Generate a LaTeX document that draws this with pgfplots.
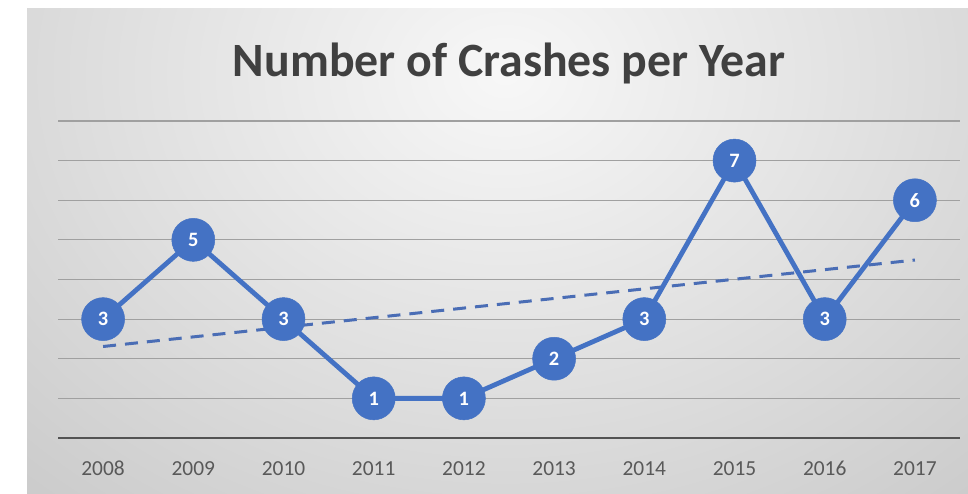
\documentclass[border=0pt]{standalone}
\usepackage{fontspec}
\setmainfont{Carlito}
\usepackage{pgfplots}
\pgfplotsset{compat=1.18}
\definecolor{cblue}{HTML}{4472C4}
\definecolor{tblue}{HTML}{4A6DB5}
\definecolor{tgray}{HTML}{404040}
\definecolor{lgray}{HTML}{595959}
\definecolor{ggray}{HTML}{A0A0A0}
\begin{document}
\begin{tikzpicture}[x=1bp,y=1bp]
\useasboundingbox (0,0) rectangle (968,494);
\fill[white] (0,0) rectangle (968,494);
\begin{scope}
\clip (27,0) rectangle (968,485);
\shade[inner color=white!97!black, outer color=white!68!black] (505,420) ellipse (1200 and 950);
\end{scope}
\node[font=\bfseries\fontsize{48}{56}\selectfont, text=tgray] at (509,431) {Number of Crashes per Year};
\begin{axis}[
  at={(58bp,56bp)}, anchor=south west, scale only axis,
  width=902bp, height=317bp,
  xmin=0.5, xmax=10.5, ymin=0, ymax=8,
  axis line style={draw=none},
  ytick={1,2,3,4,5,6,7,8}, yticklabels={},
  ymajorgrids, major grid style={ggray, line width=1.2bp},
  major tick length=0pt,
  xtick={1,2,3,4,5,6,7,8,9,10},
  xticklabels={2008,2009,2010,2011,2012,2013,2014,2015,2016,2017},
  xticklabel style={font=\fontsize{21.5}{24}\selectfont, text=lgray, yshift=-20bp, text height=14bp, text depth=0bp},
  /pgf/number format/assume math mode=true,
  clip=false,
]
\draw[tgray!90, line width=2.5bp] (axis cs:0.5,0) -- (axis cs:10.5,0);
\addplot[tblue, line width=3bp, dash pattern=on 13bp off 9bp] coordinates {(1,2.309) (10,4.491)};
\addplot[cblue, line width=4.8bp, mark=*, mark size=21.5bp,
  mark options={solid, fill=cblue, draw=cblue, line width=0.5bp},
  nodes near coords, every node near coord/.append style={anchor=center, text=white, font=\bfseries\fontsize{20.5}{24}\selectfont}]
  coordinates {(1,3) (2,5) (3,3) (4,1) (5,1) (6,2) (7,3) (8,7) (9,3) (10,6)};
\end{axis}
\end{tikzpicture}
\end{document}
